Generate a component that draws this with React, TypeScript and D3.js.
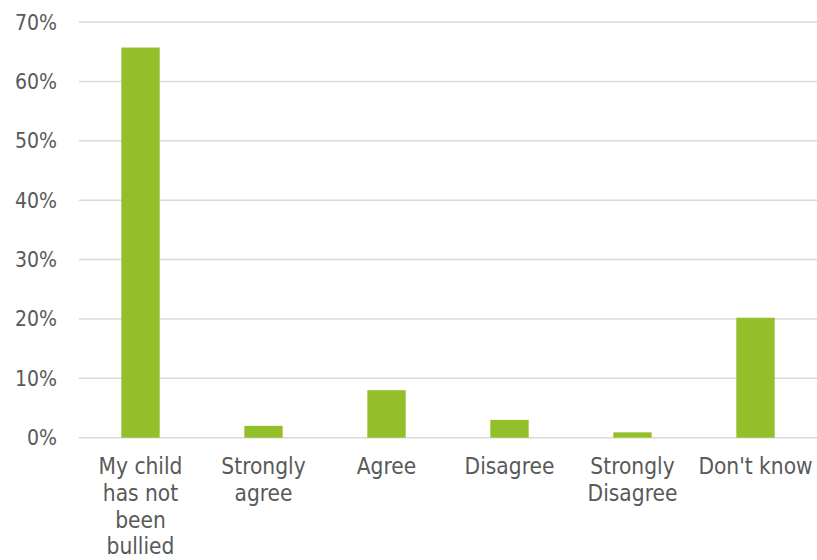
import React from "react";
import * as d3 from "d3";

const categories = [
  "My child\nhas not\nbeen\nbullied",
  "Strongly\nagree",
  "Agree",
  "Disagree",
  "Strongly\nDisagree",
  "Don't know",
];
const values = [65.7, 2.0, 8.0, 3.0, 0.9, 20.2];
const yTicks = [0, 10, 20, 30, 40, 50, 60, 70];

const W = 817;
const H = 560;
const FONT = "'DejaVu Sans Condensed', 'DejaVu Sans', sans-serif";

export default function App() {
  const x = d3.scaleBand<string>().domain(categories).range([79, 817]).padding(0);
  const y = d3.scaleLinear().domain([0, 70]).range([437.7, 22]);
  const barW = x.bandwidth() * 0.312;

  return (
    <svg
      width={W}
      height={H}
      style={{ position: "absolute", left: 0, top: 0, background: "#fff" }}
      fontFamily={FONT}
    >
      {yTicks.map((t) => (
        <g key={t}>
          <line x1={79} x2={817} y1={y(t)} y2={y(t)} stroke="#d9d9d9" strokeWidth={1.5} />
          <text x={57} y={y(t)} dy="0.36em" textAnchor="end" fontSize={21} fill="#595959">
            {t}%
          </text>
        </g>
      ))}
      {categories.map((c, i) => {
        const cx = (x(c) as number) + x.bandwidth() / 2;
        return (
          <g key={c}>
            <rect
              x={cx - barW / 2}
              y={y(values[i])}
              width={barW}
              height={y(0) - y(values[i])}
              fill="#93c02a"
            />
            <text textAnchor="middle" fontSize={22.5} fill="#595959">
              {c.split("\n").map((line, j) => (
                <tspan key={j} x={cx} y={474 + j * 26.8}>
                  {line}
                </tspan>
              ))}
            </text>
          </g>
        );
      })}
    </svg>
  );
}
